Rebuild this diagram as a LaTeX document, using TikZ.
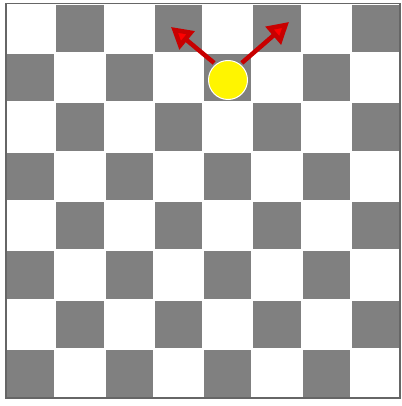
\documentclass[tikz,border=0pt]{standalone}
\usetikzlibrary{arrows.meta}
\definecolor{sqdark}{RGB}{128,128,128}
\definecolor{arrred}{RGB}{200,0,0}
\definecolor{piece}{RGB}{255,245,0}
\begin{document}
\begin{tikzpicture}[x=1pt,y=-1pt,
  darksq/.style={fill=sqdark,draw=none},
  movearrow/.style={draw=arrred,line width=4.5pt,-{Triangle[length=21pt,width=23pt,fill=red]}},
  pieceball/.style={circle,fill=piece,draw=white,line width=1pt,minimum size=39pt,inner sep=0pt}]
\useasboundingbox (0,0) rectangle (401,406);
\fill[white] (0,0) rectangle (401,406);
\foreach \r in {0,...,7}{
  \foreach \c in {0,...,7}{
    \pgfmathtruncatemacro{\parity}{mod(\r+\c,2)}
    \ifnum\parity=1
      \fill[darksq] ({6+49.25*\c+1},{4+49.25*\r+1}) rectangle ({6+49.25*(\c+1)-1},{4+49.25*(\r+1)-1});
    \fi
  }
}
\draw[gray!80!black,line width=1.2pt] (6,3.5) rectangle (400,398);
\node[pieceball] (p) at (228,80) {};
\coordinate (tl) at (171,27);
\coordinate (tr) at (289,22);
\draw[movearrow,shorten <=2pt] (p.128) -- (tl);
\draw[movearrow,shorten <=2pt] (p.52) -- (tr);
\end{tikzpicture}
\end{document}
